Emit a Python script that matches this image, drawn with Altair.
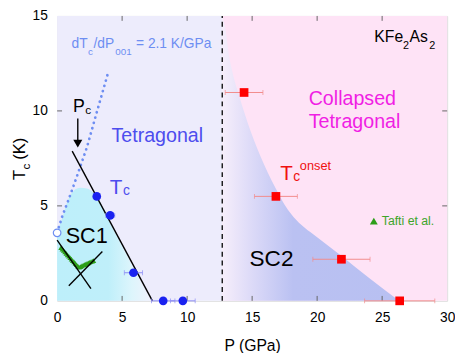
import altair as alt
import pandas as pd

# ---------------- data ----------------
blue_P = [3.05, 4.08, 5.87, 8.16, 9.67]
blue_T = [5.5, 4.5, 1.48, 0.0, 0.0]
blue_err = [0.0, 0.35, 0.7, 0.9, 0.95]

red_P = [14.38, 16.83, 21.87, 26.35]
red_T = [10.97, 5.5, 2.19, 0.0]
red_err = [1.45, 1.65, 2.2, 2.7]

open_P = [0.0]
open_T = [3.58]

dot_P = [0.0, 0.4, 0.91, 1.53, 2.29, 3.05, 3.93]
dot_T = [3.6, 4.46, 5.38, 6.57, 8.08, 9.93, 12.03]

pc_P = [1.16, 7.33]
pc_T = [7.88, 0.0]

x1_P = [0.0, 2.6]
x1_T = [3.2, 0.64]
x2_P = [0.9, 3.48]
x2_T = [0.8, 2.6]

tafti_P = [0.30, 0.40, 0.50, 0.60, 0.70, 0.80, 0.90, 1.00, 1.10, 1.20, 1.30, 1.40, 1.50,
           1.60, 1.70, 1.80, 1.90, 2.00, 2.10, 2.20, 2.30, 2.40, 2.50, 2.60, 2.70, 2.80]
tafti_T = [2.80, 2.72, 2.65, 2.57, 2.50, 2.42, 2.35, 2.27, 2.20, 2.12, 2.05, 1.97, 1.90,
           1.83, 1.77, 1.80, 1.84, 1.88, 1.91, 1.94, 1.97, 2.00, 2.03, 2.06, 2.09, 2.12]

sc1_P = [0.0, 0.4, 0.78, 1.28, 1.8, 2.29, 2.8, 3.1, 3.6, 4.1, 4.6, 5.2, 5.8, 6.3, 6.8, 7.2]
sc1_T = [3.6, 4.37, 5.22, 5.8, 5.95, 5.92, 5.69, 5.45, 4.8, 4.05, 3.4, 2.6, 1.8, 1.15, 0.5, 0.0]

sc2_P = [12.7, 12.95, 13.2, 13.5, 14.0, 14.9, 15.9, 17.1, 17.6, 18.2, 19.0, 20.0, 22.0, 24.0, 26.3]
sc2_T = [15.0, 14.3, 13.0, 12.0, 10.8, 8.9, 7.2, 5.55, 4.95, 4.4, 3.87, 3.35, 2.3, 1.2, 0.0]

P_boundary = 12.7
pc_arrow_P = 1.59
pc_arrow_T = [9.6, 8.35]
pc_arrow_head_T = 8.28
legend_tri_P = 24.36
legend_tri_T = 4.2

x_labels = [0, 5, 10, 15, 20, 25, 30]
y_labels = [0, 5, 10, 15]
x_inner_ticks = [5, 10, 15, 20, 25]
y_inner_ticks = [5, 10]

BLUE_TXT = "#4D4DEE"
DOT_BLUE = "#6E8EF2"
MAGENTA = "#F01EE4"
RED = "#F01010"
GREEN = "#3DA52A"

texts = [
    ("dT", 1.11, 13.3, 14, DOT_BLUE),
    ("c", 2.38, 12.95, 10, DOT_BLUE),
    ("/dP", 2.8, 13.3, 14, DOT_BLUE),
    ("001", 4.48, 12.95, 10, DOT_BLUE),
    ("= 2.1 K/GPa", 6.07, 13.3, 14, DOT_BLUE),
    ("KFe", 24.4, 13.65, 16, "black"),
    ("2", 26.6, 13.26, 11, "black"),
    ("As", 27.1, 13.65, 16, "black"),
    ("2", 28.62, 13.26, 11, "black"),
    ("Collapsed", 19.35, 10.3, 20, MAGENTA),
    ("Tetragonal", 19.35, 9.09, 20, MAGENTA),
    ("Tetragonal", 4.18, 8.36, 20, BLUE_TXT),
    ("T", 4.05, 5.64, 21, BLUE_TXT),
    ("c", 5.06, 5.58, 14, BLUE_TXT),
    ("T", 17.16, 6.36, 21, RED),
    ("c", 18.16, 6.31, 14, RED),
    ("onset", 18.67, 6.9, 13, RED),
    ("SC1", 0.66, 3.03, 22, "black"),
    ("SC2", 14.8, 1.85, 23, "black"),
    ("Tafti et al.", 24.97, 4.0, 12.5, GREEN),
    ("P", 1.23, 9.93, 18, "black"),
    ("c", 2.17, 9.85, 12, "black"),
]

# ---------------- chart ----------------
W, H = 397, 290
FONT = "Liberation Sans"

xs = alt.Scale(domain=[0, 30], nice=False, zero=False)
ys = alt.Scale(domain=[0, 15], nice=False, zero=False)
xaxis = alt.Axis(values=x_labels, title="P (GPa)", grid=False, ticks=False, tickSize=0, domain=False,
                 labelFont=FONT, labelFontSize=14, labelColor="black", labelPadding=10,
                 labelFlush=False, labelOverlap=False, titleFont=FONT, titleFontSize=16,
                 titleFontWeight="normal", titleColor="black", titlePadding=14)
yaxis = alt.Axis(values=y_labels, title=None, grid=False, ticks=False, tickSize=0, domain=False,
                 labelFont=FONT, labelFontSize=14, labelColor="black", labelPadding=10,
                 labelFlush=False, labelOverlap=False)


def X(f):
    return alt.X(f, type="quantitative", scale=xs, axis=xaxis)


def Y(f):
    return alt.Y(f, type="quantitative", scale=ys, axis=yaxis)


bg_df = pd.DataFrame({"x0": [0, P_boundary], "x1": [P_boundary, 30], "y0": [0, 0], "y1": [15, 15],
                      "c": ["#EDECFC", "#FEE3F6"]})
bg = alt.Chart(bg_df).mark_rect().encode(
    x=X("x0"), x2="x1", y=Y("y0"), y2="y1", color=alt.Color("c:N", scale=None))

sc2 = alt.Chart(pd.DataFrame({"P": sc2_P, "T": sc2_T})).mark_area(
    color={"gradient": "linear", "x1": 0, "x2": 1, "y1": 0, "y2": 0,
           "stops": [{"offset": 0, "color": "#F6EEFB"}, {"offset": 0.15, "color": "#DFDCF8"},
                     {"offset": 0.4, "color": "#BAC1F2"}, {"offset": 1, "color": "#B8C0F2"}]},
    interpolate="monotone").encode(x=X("P"), y=Y("T"), y2=alt.datum(0))

sc1 = alt.Chart(pd.DataFrame({"P": sc1_P, "T": sc1_T})).mark_area(
    color={"gradient": "linear", "x1": 0, "x2": 1, "y1": 0, "y2": 0,
           "stops": [{"offset": 0, "color": "#BDEFFA"}, {"offset": 0.55, "color": "#BFEFFA"},
                     {"offset": 0.8, "color": "#DDF5FC"}, {"offset": 1, "color": "#F0F2FC"}]},
    interpolate="monotone").encode(x=X("P"), y=Y("T"), y2=alt.datum(0))

dashed = alt.Chart(pd.DataFrame({"P": [P_boundary], "y0": [0], "y1": [15]})).mark_rule(
    color="black", strokeDash=[5, 4], strokeWidth=1.3).encode(x=X("P"), y=Y("y0"), y2="y1")

dotted = alt.Chart(pd.DataFrame({"P": dot_P, "T": dot_T})).mark_line(
    color=DOT_BLUE, strokeDash=[0.1, 5.5], strokeWidth=2.8, strokeCap="round").encode(
    x=X("P"), y=Y("T"))

tafti = alt.Chart(pd.DataFrame({"P": tafti_P, "T": tafti_T})).mark_point(
    shape="triangle-up", filled=True, size=30, color="#2C9E18", opacity=1).encode(x=X("P"), y=Y("T"))

lines_df = pd.DataFrame({
    "P": pc_P + x1_P + x2_P,
    "T": pc_T + x1_T + x2_T,
    "id": ["pc", "pc", "a", "a", "b", "b"],
})
blk = alt.Chart(lines_df).mark_line(color="black", strokeWidth=1.4).encode(
    x=X("P"), y=Y("T"), detail="id:N")

err_df = pd.DataFrame({
    "lo": [p - e for p, e in zip(blue_P, blue_err)] + [p - e for p, e in zip(red_P, red_err)],
    "hi": [p + e for p, e in zip(blue_P, blue_err)] + [p + e for p, e in zip(red_P, red_err)],
    "T": blue_T + red_T,
    "c": ["#8C8CF5"] * len(blue_P) + ["#F28B8B"] * len(red_P),
})
err_df = err_df[err_df["hi"] > err_df["lo"]]
errs = alt.Chart(err_df).mark_rule(strokeWidth=1).encode(
    x=X("lo"), x2="hi", y=Y("T"), color=alt.Color("c:N", scale=None))
cap_df = pd.DataFrame({"P": list(err_df["lo"]) + list(err_df["hi"]),
                       "T": list(err_df["T"]) * 2, "c": list(err_df["c"]) * 2})
caps = alt.Chart(cap_df).mark_tick(orient="vertical", size=5, thickness=1).encode(
    x=X("P"), y=Y("T"), color=alt.Color("c:N", scale=None))

blue_pts = alt.Chart(pd.DataFrame({"P": blue_P, "T": blue_T})).mark_point(
    shape="circle", filled=True, size=78, color="#1A22F0", opacity=1).encode(x=X("P"), y=Y("T"))
red_pts = alt.Chart(pd.DataFrame({"P": red_P, "T": red_T})).mark_point(
    shape="square", filled=True, size=78, color="#FF0000", opacity=1).encode(x=X("P"), y=Y("T"))
open_pt = alt.Chart(pd.DataFrame({"P": open_P, "T": open_T})).mark_point(
    shape="circle", filled=True, size=60, fill="white", stroke=DOT_BLUE, strokeWidth=1.2,
    opacity=1).encode(x=X("P"), y=Y("T"))

arrow_rule = alt.Chart(pd.DataFrame({"P": [pc_arrow_P], "t0": [pc_arrow_T[0]], "t1": [pc_arrow_T[1]]})).mark_rule(
    color="black", strokeWidth=1.4).encode(x=X("P"), y=Y("t0"), y2="t1")
arrow_head = alt.Chart(pd.DataFrame({"P": [pc_arrow_P], "T": [pc_arrow_head_T]})).mark_point(
    shape="triangle-down", filled=True, size=85, color="black", opacity=1).encode(x=X("P"), y=Y("T"))
legend_tri = alt.Chart(pd.DataFrame({"P": [legend_tri_P], "T": [legend_tri_T]})).mark_point(
    shape="triangle-up", filled=True, size=65, color="#2C9E18", opacity=1).encode(x=X("P"), y=Y("T"))

txt_df = pd.DataFrame(texts, columns=["text", "P", "T", "size", "color"])
txt = alt.Chart(txt_df).mark_text(align="left", baseline="alphabetic", font=FONT).encode(
    x=X("P"), y=Y("T"), text="text:N",
    size=alt.Size("size:Q", scale=None), color=alt.Color("color:N", scale=None))

ytitle_T = alt.Chart(pd.DataFrame({"a": [0]})).mark_text(
    text="T", angle=270, align="left", baseline="alphabetic", font=FONT, fontSize=17, color="black"
).encode(x=alt.value(-33), y=alt.value(167))
ytitle_c = alt.Chart(pd.DataFrame({"a": [0]})).mark_text(
    text="c", angle=270, align="left", baseline="alphabetic", font=FONT, fontSize=12, color="black"
).encode(x=alt.value(-28), y=alt.value(156.3))
ytitle_K = alt.Chart(pd.DataFrame({"a": [0]})).mark_text(
    text="(K)", angle=270, align="left", baseline="alphabetic", font=FONT, fontSize=17, color="black"
).encode(x=alt.value(-33), y=alt.value(146.5))

tx_df = pd.DataFrame({"v": x_inner_ticks})
ty_df = pd.DataFrame({"v": y_inner_ticks})
TICKC = "#666666"
t_bot = alt.Chart(tx_df).mark_rule(color=TICKC, strokeWidth=1).encode(
    x=X("v"), y=alt.value(H), y2=alt.value(H - 5))
t_top = alt.Chart(tx_df).mark_rule(color=TICKC, strokeWidth=1).encode(
    x=X("v"), y=alt.value(0), y2=alt.value(5))
t_left = alt.Chart(ty_df).mark_rule(color=TICKC, strokeWidth=1).encode(
    y=Y("v"), x=alt.value(0), x2=alt.value(5))
t_right = alt.Chart(ty_df).mark_rule(color=TICKC, strokeWidth=1).encode(
    y=Y("v"), x=alt.value(W - 5), x2=alt.value(W))

chart = alt.layer(
    bg, sc2, sc1, dashed, t_bot, t_top, t_left, t_right, dotted, tafti, blk, errs, caps,
    blue_pts, red_pts, open_pt, arrow_rule, arrow_head, legend_tri, txt,
    ytitle_T, ytitle_c, ytitle_K,
).properties(
    width=W, height=H,
    autosize=alt.AutoSizeParams(type="none"),
    padding={"left": 50, "top": 5, "right": 8, "bottom": 50},
).configure_view(
    stroke="#8C8C8C", strokeWidth=1
).configure(background="white")

chart.save("out.html", embed_options={"renderer": "svg", "actions": False})
